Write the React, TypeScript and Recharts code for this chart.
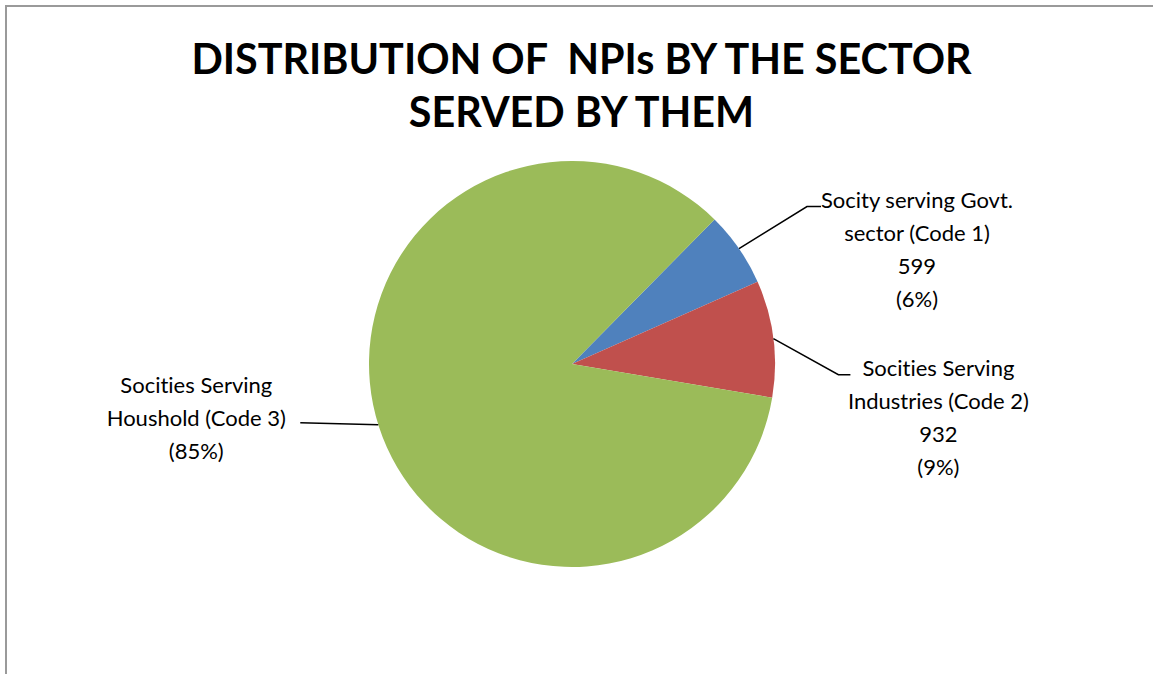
import React from 'react';
import { PieChart, Pie, Cell } from 'recharts';

const sectors = [
  'Socity serving Govt.\nsector (Code 1)',
  'Socities Serving\nIndustries (Code 2)',
  'Socities Serving\nHoushold (Code 3)',
];
const societies = [599, 932, 8500];
const showValue = [true, true, false];
const colors = ['#4F81BD', '#C0504D', '#9BBB59'];

const data = sectors.map((name, i) => ({ name, value: societies[i], showValue: showValue[i] }));

const RADIAN = Math.PI / 180;

// leader line / label placement, per slice (Excel puts them by hand)
const layout = [
  { angle: null, elbow: [68, -42], tail: 14, textDx: 96, textDy: -8 },
  { angle: null, elbow: [65, 36], tail: 12, textDx: 88, textDy: -8 },
  { angle: 197.4, elbow: [-78, -2], tail: 0, textDx: -104, textDy: -39 },
];

const LINE_H = 33;
const FONT = "Lato, 'Open Sans', sans-serif";

const renderLabel = (props: any) => {
  const { cx, cy, outerRadius, midAngle, index, percent, value, payload } = props;
  const l = layout[index];
  const a = (l.angle ?? midAngle) * RADIAN;
  const x0 = cx + outerRadius * Math.cos(a);
  const y0 = cy - outerRadius * Math.sin(a);
  const x1 = x0 + l.elbow[0];
  const y1 = y0 + l.elbow[1];
  const x2 = x1 + l.tail;
  const lines: string[] = payload.name.split('\n');
  if (payload.showValue) lines.push(String(value));
  lines.push(`(${Math.round(percent * 100)}%)`);
  const tx = x2 + l.textDx;
  const ty = y1 + l.textDy;
  return (
    <g>
      <polyline points={`${x0},${y0} ${x1},${y1} ${x2},${y1}`} fill="none" stroke="#000" strokeWidth={1.5} />
      <text
        x={tx}
        y={ty}
        textAnchor="middle"
        dominantBaseline="central"
        fontFamily={FONT}
        fontSize={22}
        fill="#000"
        style={{ fontVariantLigatures: 'none' }}
      >
        {lines.map((t, i) => (
          <tspan key={i} x={tx} y={ty + i * LINE_H}>
            {t}
          </tspan>
        ))}
      </text>
    </g>
  );
};

export default function App() {
  return (
    <div style={{ position: 'relative', width: 1153, height: 674, background: '#fff', overflow: 'hidden' }}>
      <style>{`body{margin:0}`}</style>
      <div
        style={{
          position: 'absolute',
          left: 5,
          top: 5,
          width: 1200,
          height: 700,
          borderTop: '2px solid #9a9a9a',
          borderLeft: '2px solid #9a9a9a',
        }}
      />
      <div
        style={{
          position: 'absolute',
          left: 0,
          top: 32,
          width: 1163,
          textAlign: 'center',
          fontFamily: FONT,
          fontWeight: 'bold',
          fontSize: 41.3,
          lineHeight: '53px',
          color: '#000',
          whiteSpace: 'pre',
          fontVariantLigatures: 'none',
        }}
      >
        {'DISTRIBUTION OF  NPIs BY THE SECTOR\nSERVED BY THEM'}
      </div>
      <div style={{ position: 'absolute', left: 0, top: 0 }}>
        <PieChart width={1153} height={674} margin={{ top: 0, right: 0, bottom: 0, left: 0 }}>
          <Pie
            data={data}
            dataKey="value"
            nameKey="name"
            cx={572}
            cy={364}
            outerRadius={203}
            startAngle={45.4}
            endAngle={45.4 - 360}
            stroke="none"
            label={renderLabel}
            labelLine={false}
            isAnimationActive={false}
          >
            {data.map((d, i) => (
              <Cell key={d.name} fill={colors[i]} />
            ))}
          </Pie>
        </PieChart>
      </div>
    </div>
  );
}
